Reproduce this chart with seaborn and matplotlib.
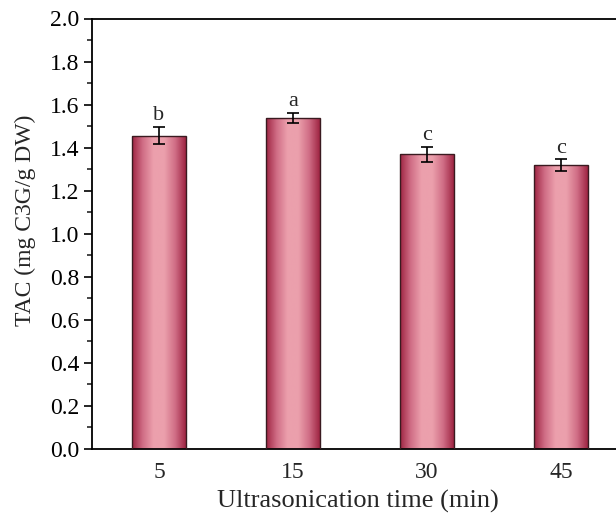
import numpy as np
import pandas as pd
import matplotlib
matplotlib.use("Agg")
import matplotlib.pyplot as plt
import seaborn as sns
from matplotlib.colors import LinearSegmentedColormap
from matplotlib.ticker import MultipleLocator

categories = ["5", "15", "30", "45"]
tac_values = [1.455, 1.539, 1.370, 1.319]
tac_errors = [0.040, 0.024, 0.035, 0.027]
letters = ["b", "a", "c", "c"]

sns.set_theme(style="ticks")
plt.rcParams["font.family"] = ["Liberation Serif", "DejaVu Serif"]

df = pd.DataFrame({"time": categories, "tac": tac_values})

fig = plt.figure(figsize=(6.16, 5.15), dpi=100)
ax = fig.add_axes([92 / 616, 1 - 449 / 515, 536 / 616, (449 - 18.5) / 515])

sns.barplot(data=df, x="time", y="tac", order=categories, width=0.4,
            color="#c04a64", edgecolor="#3a1a20", linewidth=1.0, ax=ax,
            errorbar=None, zorder=2)

cmap = LinearSegmentedColormap.from_list(
    "grad", ["#9e2442", "#d06e86", "#eca0ad", "#eba0ac", "#d06e86", "#9e2442"])
grad = np.linspace(0, 1, 256).reshape(1, -1)
for p in ax.patches:
    x0, y0 = p.get_x(), p.get_y()
    w, h = p.get_width(), p.get_height()
    im = ax.imshow(grad, cmap=cmap, aspect="auto",
                   extent=[x0, x0 + w, y0, y0 + h], zorder=2.5,
                   interpolation="bicubic")
    im.set_clip_path(p)
    p.set_facecolor("none")
    p.set_zorder(3)

xs = np.arange(len(categories))
ax.errorbar(xs, tac_values, yerr=tac_errors, fmt="none", ecolor="black",
            elinewidth=1.2, capsize=4, capthick=1.2, zorder=4)
for x, v, e, l in zip(xs, tac_values, tac_errors, letters):
    ax.text(x, v + e + 0.008, l, ha="center", va="bottom", fontsize=16)

ax.set_xlim(-0.5, 3.5)
ax.set_ylim(0, 2.0)
ax.yaxis.set_major_locator(MultipleLocator(0.2))
ax.yaxis.set_minor_locator(MultipleLocator(0.1))
ax.yaxis.set_major_formatter(matplotlib.ticker.FormatStrFormatter("%.1f"))
ax.tick_params(axis="y", which="major", direction="out", length=6, width=1.2,
               labelsize=17, colors="black", pad=3)
ax.tick_params(axis="y", which="minor", direction="out", length=3.5, width=1.2)
ax.tick_params(axis="x", length=0, labelsize=17, pad=9)
for s in ax.spines.values():
    s.set_linewidth(1.3)
    s.set_color("black")

ax.set_xlabel("Ultrasonication time (min)", fontsize=19)
ax.set_ylabel("TAC (mg C3G/g DW)", fontsize=17)
ax.xaxis.set_label_coords((358 - 92) / 536, -(501 - 449) / 430.5)
ax.yaxis.set_label_coords(-(92 - 25) / 536, (449 - 220) / 430.5)
ax.xaxis.label.set_va("center")
ax.yaxis.label.set_va("center")

fig.savefig("out.png", dpi=100)
